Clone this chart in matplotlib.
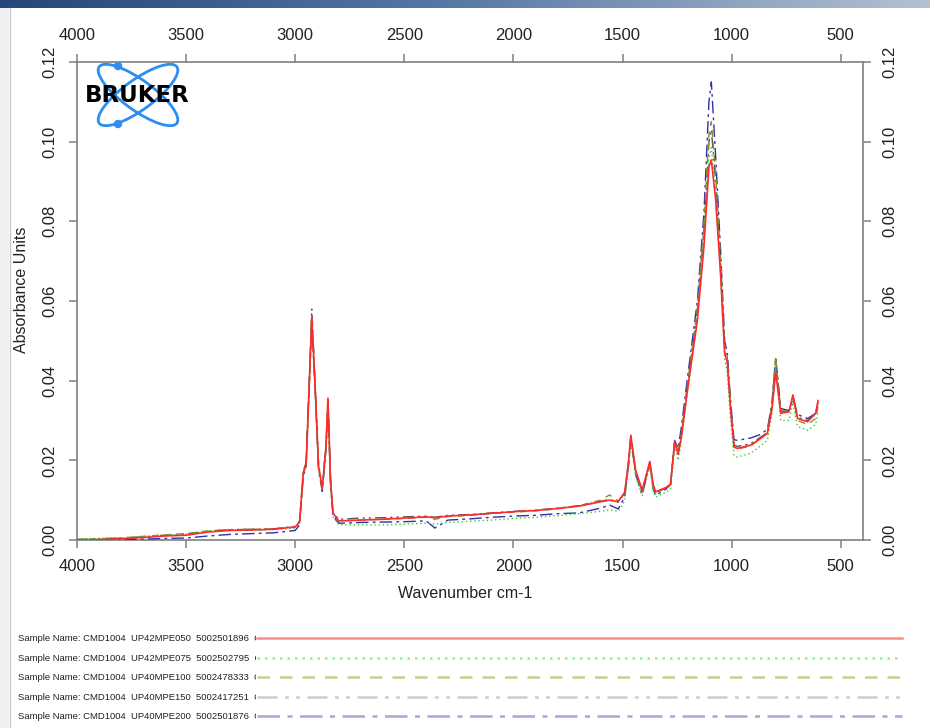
import numpy as np
import matplotlib
matplotlib.use("Agg")
import matplotlib.pyplot as plt
from matplotlib.patches import Ellipse, Circle, Rectangle

plt.rcParams['font.family'] = ['Liberation Sans', 'DejaVu Sans']

wavenumber = [4000, 3900, 3800, 3700, 3600, 3500, 3400, 3300, 3200, 3100,
              3000, 2980, 2963, 2950, 2935, 2924, 2908, 2893, 2876, 2859,
              2850, 2838, 2827, 2800, 2700, 2600, 2500, 2400, 2360, 2300,
              2200, 2100, 2000, 1900, 1800, 1700, 1600, 1560, 1520, 1490,
              1472, 1462, 1440, 1410, 1375, 1360, 1349, 1300, 1280, 1261,
              1245, 1230, 1204, 1157, 1127, 1104, 1093, 1073, 1050, 1032,
              1020, 1005, 989, 974, 913, 867, 836, 815, 798, 775,
              737, 719, 698, 652, 615, 604]

abs_050 = [0.0000, 0.0001, 0.0003, 0.0006, 0.0010, 0.0012, 0.0020, 0.0024, 0.0025, 0.0027,
           0.0033, 0.0045, 0.0168, 0.0190, 0.0400, 0.0557, 0.0376, 0.0184, 0.0130, 0.0234,
           0.0356, 0.0150, 0.0068, 0.0048, 0.0050, 0.0052, 0.0055, 0.0058, 0.0056, 0.0060,
           0.0063, 0.0067, 0.0071, 0.0074, 0.0079, 0.0085, 0.0096, 0.0100, 0.0096, 0.0120,
           0.0200, 0.0263, 0.0175, 0.0125, 0.0197, 0.0140, 0.0121, 0.0132, 0.0140, 0.0247,
           0.0215, 0.0260, 0.0369, 0.0552, 0.0736, 0.0937, 0.0954, 0.0853, 0.0660, 0.0468,
           0.0447, 0.0330, 0.0234, 0.0230, 0.0238, 0.0255, 0.0268, 0.0330, 0.0422, 0.0318,
           0.0322, 0.0364, 0.0305, 0.0297, 0.0318, 0.0350]

abs_075 = [0.0003, 0.0004, 0.0005, 0.0008, 0.0012, 0.0015, 0.0022, 0.0025, 0.0025, 0.0026,
           0.0030, 0.0042, 0.0165, 0.0188, 0.0390, 0.0545, 0.0365, 0.0178, 0.0125, 0.0228,
           0.0345, 0.0140, 0.0058, 0.0038, 0.0038, 0.0038, 0.0040, 0.0042, 0.0040, 0.0044,
           0.0047, 0.0050, 0.0054, 0.0057, 0.0061, 0.0066, 0.0072, 0.0076, 0.0072, 0.0098,
           0.0185, 0.0250, 0.0160, 0.0110, 0.0185, 0.0125, 0.0108, 0.0120, 0.0128, 0.0235,
           0.0200, 0.0250, 0.0365, 0.0560, 0.0760, 0.0960, 0.0985, 0.0870, 0.0660, 0.0455,
           0.0420, 0.0300, 0.0212, 0.0208, 0.0218, 0.0236, 0.0250, 0.0320, 0.0440, 0.0300,
           0.0300, 0.0345, 0.0285, 0.0275, 0.0290, 0.0320]

abs_100 = [0.0002, 0.0003, 0.0005, 0.0009, 0.0013, 0.0016, 0.0023, 0.0026, 0.0027, 0.0028,
           0.0032, 0.0046, 0.0170, 0.0192, 0.0405, 0.0565, 0.0380, 0.0186, 0.0131, 0.0236,
           0.0352, 0.0148, 0.0065, 0.0048, 0.0050, 0.0052, 0.0054, 0.0057, 0.0052, 0.0059,
           0.0062, 0.0066, 0.0070, 0.0073, 0.0078, 0.0086, 0.0100, 0.0113, 0.0098, 0.0118,
           0.0195, 0.0258, 0.0170, 0.0120, 0.0192, 0.0136, 0.0118, 0.0130, 0.0140, 0.0250,
           0.0220, 0.0268, 0.0385, 0.0580, 0.0790, 0.1020, 0.1050, 0.0920, 0.0700, 0.0490,
           0.0460, 0.0335, 0.0232, 0.0228, 0.0236, 0.0255, 0.0268, 0.0345, 0.0460, 0.0325,
           0.0322, 0.0360, 0.0300, 0.0290, 0.0305, 0.0335]

abs_150 = [0.0001, 0.0003, 0.0005, 0.0008, 0.0012, 0.0015, 0.0022, 0.0026, 0.0027, 0.0028,
           0.0034, 0.0047, 0.0172, 0.0195, 0.0410, 0.0580, 0.0385, 0.0188, 0.0133, 0.0238,
           0.0350, 0.0150, 0.0068, 0.0052, 0.0055, 0.0056, 0.0058, 0.0060, 0.0057, 0.0062,
           0.0064, 0.0068, 0.0072, 0.0075, 0.0080, 0.0086, 0.0097, 0.0102, 0.0095, 0.0118,
           0.0198, 0.0260, 0.0172, 0.0122, 0.0195, 0.0138, 0.0120, 0.0131, 0.0139, 0.0245,
           0.0218, 0.0265, 0.0380, 0.0575, 0.0780, 0.1000, 0.1030, 0.0900, 0.0690, 0.0480,
           0.0455, 0.0335, 0.0238, 0.0235, 0.0242, 0.0258, 0.0270, 0.0340, 0.0455, 0.0322,
           0.0325, 0.0362, 0.0308, 0.0300, 0.0318, 0.0345]

abs_200 = [0.0000, 0.0000, 0.0001, 0.0002, 0.0004, 0.0005, 0.0010, 0.0014, 0.0016, 0.0018,
           0.0024, 0.0038, 0.0160, 0.0185, 0.0395, 0.0550, 0.0370, 0.0176, 0.0122, 0.0226,
           0.0340, 0.0140, 0.0060, 0.0042, 0.0044, 0.0045, 0.0046, 0.0048, 0.0030, 0.0050,
           0.0053, 0.0057, 0.0060, 0.0062, 0.0066, 0.0068, 0.0080, 0.0088, 0.0078, 0.0108,
           0.0190, 0.0255, 0.0165, 0.0114, 0.0190, 0.0130, 0.0112, 0.0128, 0.0140, 0.0250,
           0.0230, 0.0285, 0.0400, 0.0600, 0.0820, 0.1100, 0.1150, 0.0960, 0.0720, 0.0500,
           0.0470, 0.0350, 0.0252, 0.0250, 0.0256, 0.0265, 0.0278, 0.0345, 0.0455, 0.0330,
           0.0325, 0.0355, 0.0315, 0.0305, 0.0318, 0.0348]

sample_names = ["Sample Name: CMD1004  UP42MPE050  5002501896  C",
                "Sample Name: CMD1004  UP42MPE075  5002502795  C",
                "Sample Name: CMD1004  UP40MPE100  5002478333  C",
                "Sample Name: CMD1004  UP40MPE150  5002417251  C",
                "Sample Name: CMD1004  UP40MPE200  5002501876  C"]

x_ticks = [4000, 3500, 3000, 2500, 2000, 1500, 1000, 500]
y_ticks = [0.00, 0.02, 0.04, 0.06, 0.08, 0.10, 0.12]

spectra = [abs_050, abs_075, abs_100, abs_150, abs_200]
plot_colors = ['#ff2a2a', '#33cc33', '#8c8c30', '#555555', '#3030a8']
legend_colors = ['#ff8a8a', '#8cf58c', '#cccc90', '#cdcdcd', '#a8a8dc']
line_styles = ['-', (0, (1, 2)), (0, (5, 4)), (0, (8, 3, 1.5, 3, 1.5, 3)), (0, (9, 3, 2, 3))]

W, H = 930, 728
fig = plt.figure(figsize=(W / 100, H / 100), dpi=100)

# Hauptdiagramm
ax = fig.add_axes([77 / W, 1 - 540 / H, (863 - 77) / W, (540 - 62) / H])
draw_order = [4, 3, 2, 1, 0]
for i in draw_order:
    ax.plot(wavenumber, spectra[i], color=plot_colors[i], linestyle=line_styles[i],
            linewidth=1.2 if i == 0 else 1.0, zorder=3 + (5 - i))

ax.set_xlim(4000, 398)
ax.set_ylim(0, 0.12)
ax.set_xticks(x_ticks)
ax.set_yticks(y_ticks)
ax.set_yticklabels(["%.2f" % v for v in y_ticks])
for s in ax.spines.values():
    s.set_color('#808080')
    s.set_linewidth(1.2)
ax.tick_params(direction='out', length=6, width=1.1, color='#808080',
               top=True, right=True, labeltop=True, labelright=True,
               labelsize=12, pad=8, labelcolor='#222222')
ax.tick_params(axis='y', labelrotation=90)
for t in ax.yaxis.get_major_ticks():
    t.label1.set_va('center')
    t.label2.set_va('center')

fig.text(465 / W, 1 - 594 / H, "Wavenumber cm-1", ha='center', va='center',
         fontsize=11.5, color='#222222')
fig.text(22 / W, 1 - 290 / H, "Absorbance Units", ha='center', va='center',
         rotation=90, fontsize=11.5, color='#222222')

# Overlay in Pixelkoordinaten fuer Fensterrahmen, Logo und Legende
ov = fig.add_axes([0, 0, 1, 1], facecolor='none')
ov.set_xlim(0, W)
ov.set_ylim(H, 0)
ov.axis('off')

grad = np.linspace(0, 1, 256).reshape(1, -1)
ov.imshow(grad, extent=[0, W, 8, 0], aspect='auto', cmap=matplotlib.colors.LinearSegmentedColormap.from_list(
    'bar', ['#24467a', '#5a7aa6', '#b4c2d2']), zorder=1)
ov.add_patch(Rectangle((0, 8), 9, H, facecolor='#f0f0f0', edgecolor='none', zorder=1))
ov.plot([9.5, 9.5], [8, H], color='#c8c8c8', lw=1, zorder=2)

# Bruker-Logo
logo_blue = '#2b8ef0'
ov.add_patch(Ellipse((138, 95), 96, 30, angle=36, fill=False, edgecolor=logo_blue, lw=2, zorder=5))
ov.add_patch(Ellipse((138, 95), 96, 30, angle=-36, fill=False, edgecolor=logo_blue, lw=2, zorder=5))
ov.add_patch(Circle((118, 66), 3.5, color=logo_blue, zorder=6))
ov.add_patch(Circle((118, 124), 3.5, color=logo_blue, zorder=6))
ov.text(137, 96, "BRUKER", ha='center', va='center', fontsize=16.5, fontweight='heavy',
        family=['DejaVu Sans'], color='black', zorder=7)

# Legende
row_y = [638, 658, 677, 697, 716]
for i in range(5):
    ov.text(18, row_y[i] + 0.5, sample_names[i], ha='left', va='center', fontsize=6.8,
            family=['Liberation Sans'], color='#222222', zorder=3)
ov.add_patch(Rectangle((256, 625), W - 256, H - 625, facecolor='white', edgecolor='none', zorder=4))
for i in range(5):
    ov.plot([257, 902], [row_y[i], row_y[i]], color=legend_colors[i], linestyle=line_styles[i],
            lw=1.8, zorder=5)

fig.savefig("out.png", dpi=100)
